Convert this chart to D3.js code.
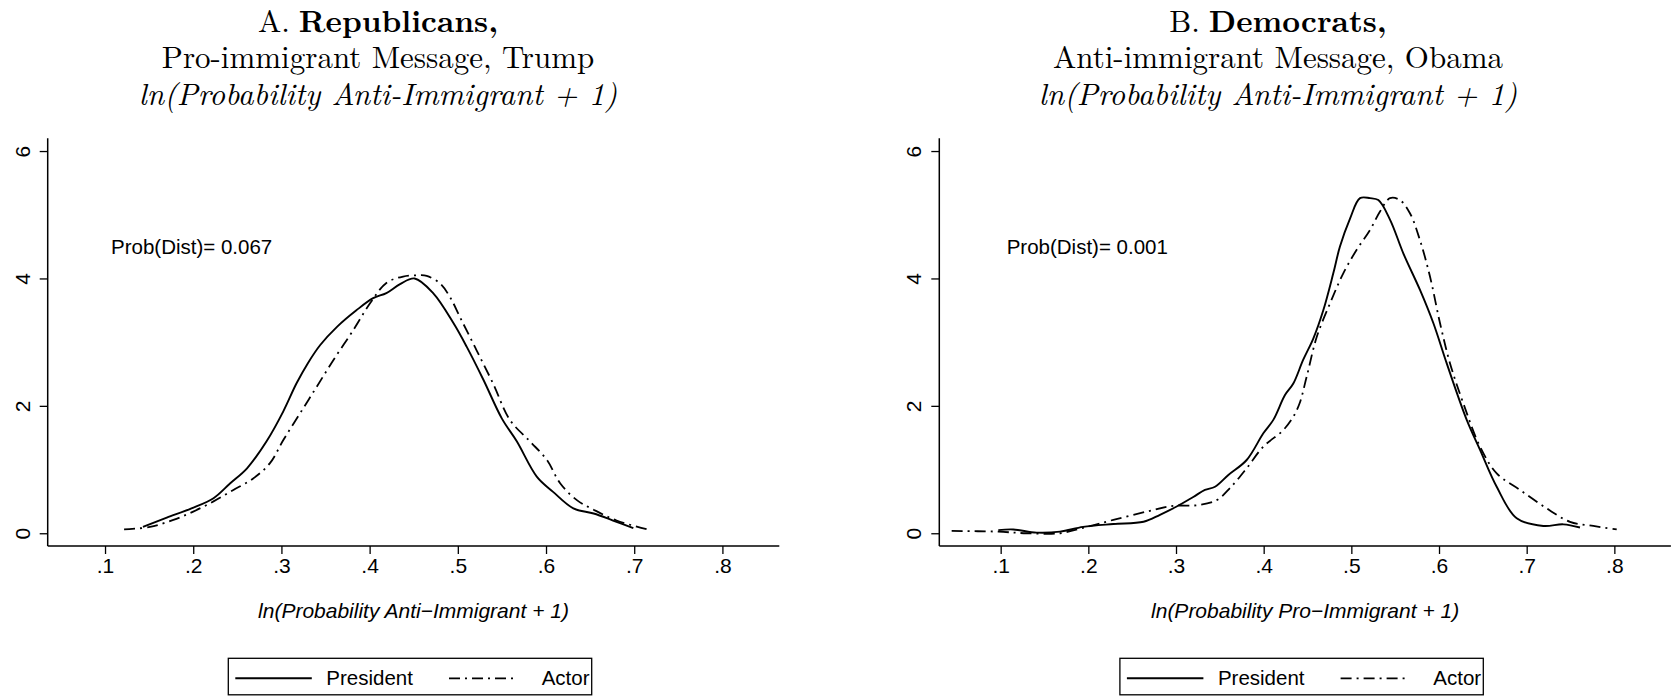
<!DOCTYPE html>
<html>
<head>
<meta charset="utf-8">
<script src="https://cdn.jsdelivr.net/npm/d3@7"></script>
<style>
  html, body { margin: 0; padding: 0; background: #fff; }
  svg { display: block; }
</style>
</head>
<body>
<svg id="chart" width="1671" height="696"></svg>
<script>
// ---------- data ----------
const xTicks = [0.1, 0.2, 0.3, 0.4, 0.5, 0.6, 0.7, 0.8];
const xTickLabels = [".1", ".2", ".3", ".4", ".5", ".6", ".7", ".8"];
const yTicks = [0, 2, 4, 6];
const yTickLabels = ["0", "2", "4", "6"];
const seriesNames = ["President", "Actor"];

const titleA = ["A.", "Republicans,", "Pro-immigrant Message, Trump", "ln(Probability Anti-Immigrant + 1)"];
const titleB = ["B.", "Democrats,", "Anti-immigrant Message, Obama", "ln(Probability Anti-Immigrant + 1)"];
const xTitleA = "ln(Probability Anti\u2212Immigrant + 1)";
const xTitleB = "ln(Probability Pro\u2212Immigrant + 1)";
const probA = "Prob(Dist)= 0.067";
const probB = "Prob(Dist)= 0.001";

// Panel A: Republicans
const presA_x = [0.143,0.170,0.198,0.223,0.242,0.261,0.283,0.302,0.317,0.330,0.344,0.363,0.385,0.404,0.419,0.4345,0.451,0.472,0.495,0.510,0.529,0.550,0.567,0.5895,0.608,0.631,0.654,0.676,0.699];
const presA_y = [0.10,0.245,0.39,0.55,0.785,1.02,1.44,1.91,2.35,2.67,2.955,3.24,3.50,3.69,3.77,3.91,4.00,3.77,3.30,2.93,2.41,1.80,1.44,0.89,0.65,0.39,0.31,0.20,0.08];
const actorA_x = [0.1216,0.151,0.1775,0.200,0.223,0.2455,0.268,0.287,0.302,0.321,0.340,0.359,0.3815,0.4005,0.419,0.438,0.455,0.4647,0.480,0.491,0.504,0.521,0.540,0.559,0.582,0.601,0.616,0.635,0.654,0.680,0.718];
const actorA_y = [0.06,0.10,0.21,0.34,0.50,0.68,0.86,1.10,1.46,1.88,2.30,2.72,3.19,3.61,3.93,4.03,4.05,4.04,3.92,3.71,3.35,2.88,2.35,1.78,1.44,1.15,0.785,0.52,0.37,0.20,0.05];

// Panel B: Democrats
const presB_x = [0.0973,0.1144,0.141,0.1677,0.194,0.2285,0.263,0.2817,0.3008,0.3197,0.333,0.3445,0.3597,0.3806,0.3996,0.411,0.4243,0.4338,0.445,0.4567,0.468,0.4794,0.487,0.4985,0.5099,0.5213,0.5308,0.5442,0.5594,0.5783,0.5935,0.6087,0.6316,0.6468,0.6658,0.6886,0.719,0.7418,0.7608];
const presB_y = [0.05,0.06,0.01,0.025,0.10,0.145,0.18,0.29,0.42,0.57,0.68,0.73,0.915,1.15,1.57,1.78,2.17,2.35,2.72,3.06,3.50,4.08,4.50,4.94,5.26,5.26,5.23,4.92,4.39,3.82,3.30,2.67,1.78,1.31,0.73,0.235,0.115,0.14,0.09];
const actorB_x = [0.0441,0.0973,0.1297,0.1677,0.198,0.2285,0.2666,0.2969,0.3236,0.3464,0.3616,0.3806,0.3996,0.4224,0.4338,0.441,0.4491,0.4605,0.4757,0.4908,0.5061,0.5213,0.5327,0.5441,0.5555,0.567,0.5783,0.5897,0.6011,0.6125,0.6277,0.6468,0.6658,0.6924,0.7228,0.7494,0.776,0.8027];
const actorB_y = [0.036,0.025,0.0,0.0,0.10,0.21,0.34,0.43,0.44,0.52,0.71,1.02,1.36,1.62,1.83,2.04,2.46,3.08,3.61,4.08,4.45,4.76,5.05,5.26,5.23,5.02,4.60,4.03,3.30,2.67,2.04,1.36,0.94,0.68,0.39,0.18,0.115,0.06];

// ---------- drawing ----------
const svg = d3.select("#chart");
svg.append("rect").attr("width", 1671).attr("height", 696).attr("fill", "#fff");

const SANS = "'Liberation Sans', Arial, Helvetica, sans-serif";
const SERIF = "'Latin Modern Roman', 'CMU Serif', 'Liberation Serif', 'Times New Roman', serif";
const DASHDOT = "11,5,2,5";
const TFS = "31px";

function drawPanel(cfg) {
  const g = svg.append("g");
  const x = d3.scaleLinear().domain(cfg.xDomain).range([cfg.left, cfg.left + 731.6]);
  const y = d3.scaleLinear().domain([-0.2, 6.2]).range([546, 138.3]);

  // titles (line 1: regular prefix + bold word, laid out side by side)
  const pre = g.append("text").attr("y", 32).style("font-family", SERIF).style("font-size", TFS).text(cfg.title[0]);
  const bold = g.append("text").attr("y", 32).style("font-family", SERIF).style("font-size", TFS)
    .style("font-weight", "bold").text(cfg.title[1]);
  const w1 = pre.node().getComputedTextLength();
  const w2 = bold.node().getComputedTextLength();
  const gap = 9;
  const start = cfg.titleX - (w1 + gap + w2) / 2;
  pre.attr("x", start);
  bold.attr("x", start + w1 + gap);

  g.append("text").attr("x", cfg.titleX).attr("y", 68)
    .attr("text-anchor", "middle").style("font-family", SERIF).style("font-size", TFS)
    .text(cfg.title[2]);
  g.append("text").attr("x", cfg.titleX).attr("y", 105)
    .attr("text-anchor", "middle").style("font-family", SERIF).style("font-size", TFS)
    .style("font-style", "italic").text(cfg.title[3]);

  // axes
  const yAxis = d3.axisLeft(y).tickValues(yTicks).tickFormat((d, i) => yTickLabels[i]).tickSize(8).tickPadding(4);
  const ya = g.append("g").attr("transform", `translate(${cfg.left},0)`).call(yAxis);
  ya.select(".domain").attr("d", `M0,${y.range()[1]}V${y.range()[0]}`).attr("stroke", "#000").attr("stroke-width", 1.5);
  ya.selectAll(".tick line").attr("stroke", "#000").attr("stroke-width", 1.3);
  ya.selectAll(".tick text")
    .attr("x", null).attr("dy", null)
    .attr("transform", "translate(-18,0) rotate(-90)")
    .attr("text-anchor", "middle")
    .style("font-family", SANS).style("font-size", "21px").attr("fill", "#000");

  const xAxis = d3.axisBottom(x).tickValues(xTicks).tickFormat((d, i) => xTickLabels[i]).tickSize(8).tickPadding(3);
  const xa = g.append("g").attr("transform", `translate(0,546)`).call(xAxis);
  xa.select(".domain").attr("d", `M${x.range()[0]},0H${x.range()[1]}`).attr("stroke", "#000").attr("stroke-width", 1.5);
  xa.selectAll(".tick line").attr("stroke", "#000").attr("stroke-width", 1.3);
  xa.selectAll(".tick text").attr("dy", "0.74em")
    .style("font-family", SANS).style("font-size", "21px").attr("fill", "#000");

  // x title
  g.append("text").attr("x", (x.range()[0] + x.range()[1]) / 2).attr("y", 618)
    .attr("text-anchor", "middle").style("font-family", SANS).style("font-size", "21px")
    .style("font-style", "italic").text(cfg.xTitle);

  // annotation
  g.append("text").attr("x", x(0.1) + 6).attr("y", y(4.5) + 7)
    .style("font-family", SANS).style("font-size", "20.5px").text(cfg.prob);

  // curves
  const line = d3.line().x(d => x(d[0])).y(d => y(d[1])).curve(d3.curveCatmullRom.alpha(0.5));
  const presPts = cfg.presX.map((v, i) => [v, cfg.presY[i]]);
  const actPts = cfg.actX.map((v, i) => [v, cfg.actY[i]]);
  g.append("path").datum(presPts).attr("d", line).attr("fill", "none")
    .attr("stroke", "#000").attr("stroke-width", 1.9).attr("stroke-linejoin", "round");
  g.append("path").datum(actPts).attr("d", line).attr("fill", "none")
    .attr("stroke", "#000").attr("stroke-width", 1.8).attr("stroke-dasharray", DASHDOT);

  // legend
  const lx = cfg.legendX, ly = 658.3;
  const lg = g.append("g").attr("transform", `translate(${lx},${ly})`);
  lg.append("rect").attr("x", 0).attr("y", 0).attr("width", 363.4).attr("height", 36.5)
    .attr("fill", "#fff").attr("stroke", "#000").attr("stroke-width", 1.3);
  lg.append("line").attr("x1", 7).attr("x2", 83.5).attr("y1", 20).attr("y2", 20)
    .attr("stroke", "#000").attr("stroke-width", 1.9);
  lg.append("text").attr("x", 98).attr("y", 27).style("font-family", SANS).style("font-size", "20.5px").text(seriesNames[0]);
  lg.append("line").attr("x1", 220.7).attr("x2", 285).attr("y1", 20).attr("y2", 20)
    .attr("stroke", "#000").attr("stroke-width", 1.8).attr("stroke-dasharray", DASHDOT);
  lg.append("text").attr("x", 313.4).attr("y", 27).style("font-family", SANS).style("font-size", "20.5px").text(seriesNames[1]);
}

drawPanel({
  left: 47.7, xDomain: [0.035, 0.8645], titleX: 378, title: titleA, xTitle: xTitleA, prob: probA,
  presX: presA_x, presY: presA_y, actX: actorA_x, actY: actorA_y, legendX: 228.3
});
drawPanel({
  left: 939.3, xDomain: [0.030, 0.8645], titleX: 1278, title: titleB, xTitle: xTitleB, prob: probB,
  presX: presB_x, presY: presB_y, actX: actorB_x, actY: actorB_y, legendX: 1119.9
});
</script>
</body>
</html>
